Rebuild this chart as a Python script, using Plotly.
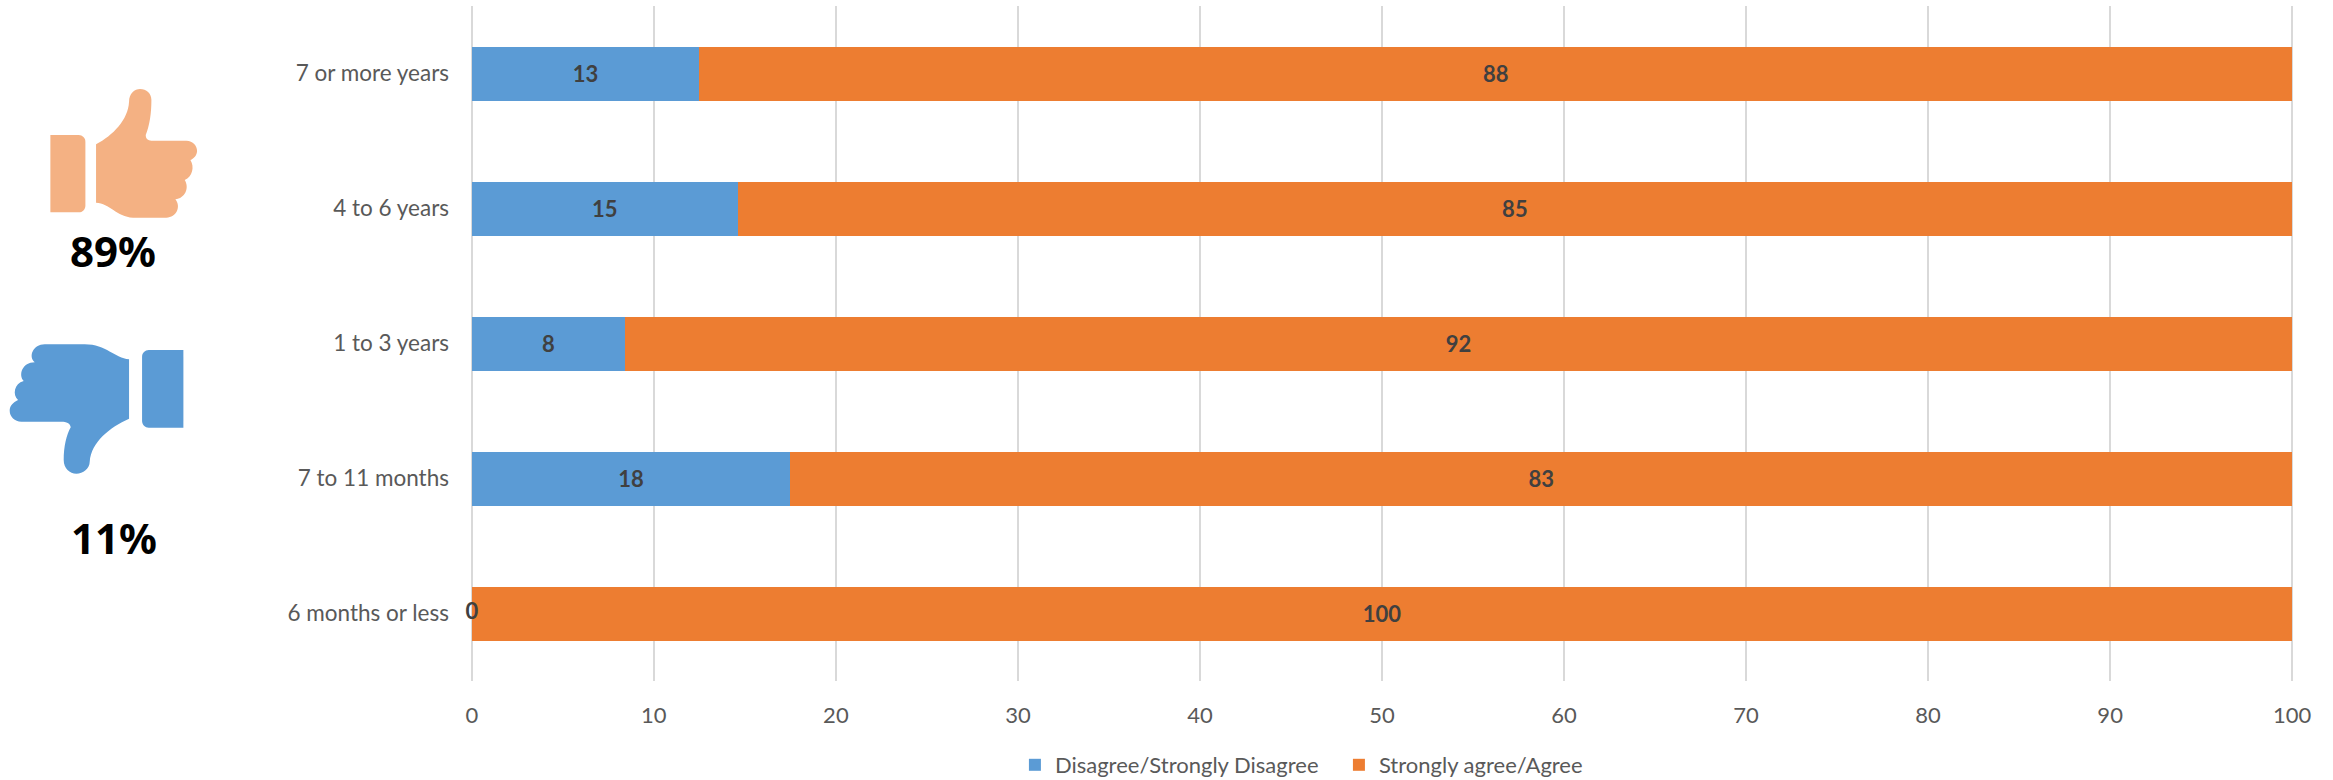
import plotly.graph_objects as go

categories = ["6 months or less", "7 to 11 months", "1 to 3 years", "4 to 6 years", "7 or more years"]
disagree = [0, 17.5, 8.4, 14.6, 12.5]
agree = [100, 82.5, 91.6, 85.4, 87.5]
x_ticks = [0, 10, 20, 30, 40, 50, 60, 70, 80, 90, 100]
series_names = ["Disagree/Strongly Disagree", "Strongly agree/Agree"]
agree_share = "89%"
disagree_share = "11%"

W, H = 2333, 780
# plot frame slightly wider than 0..100 so the end gridlines are kept
L, R, T, B = 470.2, 2293.8, 6, 681
X_RANGE = [-0.1, 100.1]
BLUE, ORANGE, PEACH = "#5B9BD5", "#ED7D31", "#F4B183"
FONT = "Lato"
GREY = "#595959"
LABEL = "#404040"


def fx(px):
    return (px - L) / (R - L)


def fy(py):
    return (B - py) / (B - T)


def path(cmds, ox, oy):
    out = []
    for c in cmds:
        pts = " ".join(f"{fx(ox + x / 3):.5f},{fy(oy + y / 3):.5f}" for x, y in c[1:])
        out.append(c[0] + pts)
    return " ".join(out) + " Z"


up_hand = [
    ("M", (289, 253)), ("C", (340, 225), (385, 180), (388, 125)),
    ("C", (388, 100), (405, 87), (421, 87)), ("C", (440, 87), (455, 100), (455, 120)),
    ("C", (455, 160), (450, 195), (438, 225)), ("C", (438, 236), (445, 242), (455, 242)),
    ("L", (560, 242)), ("C", (580, 242), (592, 258), (592, 272)), ("C", (592, 285), (583, 295), (572, 300)),
    ("C", (585, 320), (578, 350), (555, 360)), ("C", (570, 385), (555, 415), (527, 418)),
    ("C", (545, 440), (530, 473), (500, 473)), ("L", (400, 473)),
    ("C", (350, 470), (330, 430), (289, 428)),
]
up_cuff = [
    ("M", (152, 225)), ("L", (237, 225)), ("C", (248, 225), (257, 234), (257, 245)),
    ("L", (257, 437)), ("C", (257, 448), (248, 457), (237, 457)), ("L", (152, 457)),
]
down_hand = [
    ("M", (388, 118)), ("L", (388, 296)), ("C", (330, 322), (275, 365), (270, 425)),
    ("C", (270, 445), (250, 461), (230, 461)), ("C", (210, 461), (192, 445), (192, 420)),
    ("C", (192, 380), (200, 345), (213, 322)), ("C", (212, 310), (200, 305), (185, 305)),
    ("L", (65, 305)), ("C", (45, 305), (30, 290), (30, 272)), ("C", (30, 258), (40, 247), (55, 240)),
    ("C", (38, 225), (43, 190), (72, 183)), ("C", (55, 165), (68, 127), (105, 127)),
    ("C", (85, 110), (100, 73), (135, 73)), ("L", (255, 73)), ("C", (320, 73), (345, 115), (388, 118)),
]
down_cuff = [
    ("M", (551, 90)), ("L", (447, 90)), ("C", (436, 90), (427, 99), (427, 110)),
    ("L", (427, 303)), ("C", (427, 314), (436, 323), (447, 323)), ("L", (551, 323)),
]

icon_shapes = [
    dict(type="path", xref="paper", yref="paper", path=path(p, ox, oy), fillcolor=col,
         line=dict(width=0), layer="above")
    for p, ox, oy, col in [
        (up_hand, 0, 60, PEACH), (up_cuff, 0, 60, PEACH),
        (down_hand, 0, 320, BLUE), (down_cuff, 0, 320, BLUE),
    ]
]

fig = go.Figure()
for name, vals, col in [(series_names[0], disagree, BLUE), (series_names[1], agree, ORANGE)]:
    fig.add_trace(go.Bar(
        name=name, y=categories, x=vals, orientation="h", marker=dict(color=col, line=dict(width=0)),
        texttemplate="%{x:.0f}", textposition="inside", insidetextanchor="middle", textangle=0,
        constraintext="none", insidetextfont=dict(family=FONT, size=22, color=LABEL, weight="bold"),
        hoverinfo="skip",
    ))

zero_y = [c for c, v in zip(categories, disagree) if v == 0]
zero_x = [v for v in disagree if v == 0]
fig.add_trace(go.Scatter(
    y=zero_y, x=zero_x, mode="text", text=[f"{v:.0f}" for v in zero_x], textposition="middle center",
    textfont=dict(family=FONT, size=22, color=LABEL, weight="bold"), showlegend=False, cliponaxis=False,
    hoverinfo="skip",
))

fig.update_layout(
    width=W, height=H, barmode="stack", bargap=0.6, autosize=False,
    margin=dict(l=L, r=W - R, t=T, b=H - B, pad=0, autoexpand=False),
    paper_bgcolor="white", plot_bgcolor="white",
    font=dict(family=FONT, size=22, color=GREY),
    shapes=icon_shapes,
    legend=dict(orientation="h", xref="paper", yref="paper", x=fx(1015), y=fy(744), xanchor="left", yanchor="top",
                font=dict(family=FONT, size=22, color=GREY), entrywidth=279, entrywidthmode="pixels",
                traceorder="normal", bgcolor="rgba(0,0,0,0)"),
    annotations=[
        dict(text=agree_share, xref="paper", yref="paper", x=fx(113), y=fy(251), xanchor="center", yanchor="middle",
             showarrow=False, font=dict(family="Noto Sans", size=42, color="black", weight="bold")),
        dict(text=disagree_share, xref="paper", yref="paper", x=fx(114), y=fy(537), xanchor="center", yanchor="middle",
             showarrow=False, font=dict(family="Noto Sans", size=42, color="black", weight="bold")),
    ],
)
fig.update_xaxes(range=X_RANGE, tickvals=x_ticks, showgrid=True, gridcolor="#D9D9D9", gridwidth=2,
                 zeroline=False, showline=False, ticks="", ticklabelstandoff=19,
                 tickfont=dict(family=FONT, size=22, color=GREY))
fig.update_yaxes(categoryorder="array", categoryarray=categories, showgrid=False, zeroline=False, showline=False,
                 ticks="", ticklabelstandoff=20, tickfont=dict(family=FONT, size=22.5, color=GREY))

fig.write_html("out.html", config=dict(displayModeBar=False),
               post_script="document.body.style.margin='0';document.body.style.overflow='hidden';")
